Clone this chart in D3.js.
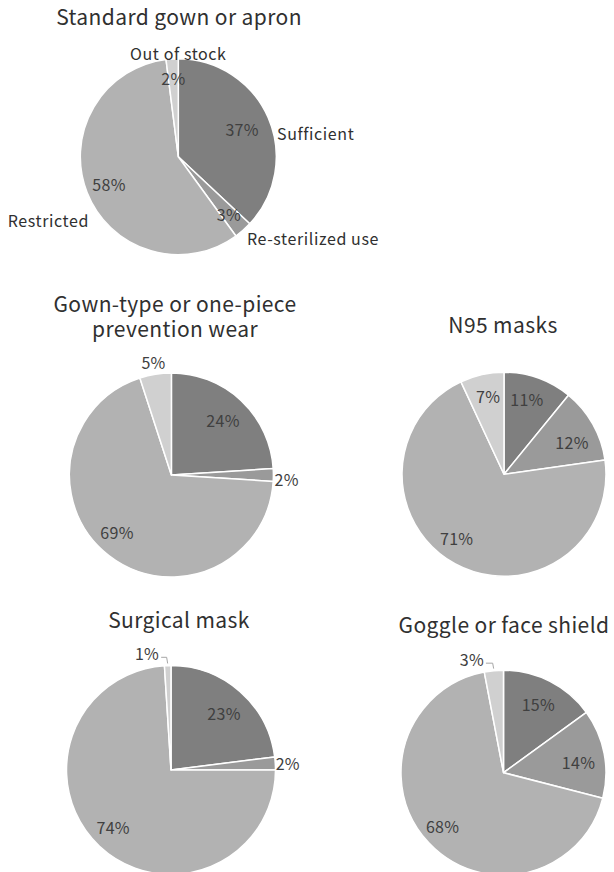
<!DOCTYPE html>
<html><head><meta charset="utf-8">
<script src="https://cdn.jsdelivr.net/npm/d3@7"></script>
<style>body{margin:0;background:#fff} text{font-family:"Noto Sans CJK JP","Noto Sans",sans-serif;font-weight:400}</style>
</head><body><svg id="c" width="614" height="872"></svg>
<script>
// ---- data ----
const categories = ["Sufficient", "Re-sterilized use", "Restricted", "Out of stock"];
const chartTitles = [
  ["Standard gown or apron"],
  ["Gown-type or one-piece", "prevention wear"],
  ["N95 masks"],
  ["Surgical mask"],
  ["Goggle or face shield"]
];
const standardGown = [37, 3, 58, 2];
const gownType = [24, 2, 69, 5];
const n95Masks = [11, 12, 71, 7];
const surgicalMask = [23, 2, 74, 1];
const goggleShield = [15, 14, 68, 3];
const seriesList = [standardGown, gownType, n95Masks, surgicalMask, goggleShield];
const colors = ["#7f7f7f", "#9a9a9a", "#b2b2b2", "#d0d0d0"];

// ---- layout (positions / styles) ----
const layout = [
  {cx: 178.3, cy: 156.7, r: 98, tx: 179, ty: 25,
   lab: [{k: .71}, {k: .78}, {k: .76}, {k: .8}],
   names: [{a: 76.5, k: 1.036, anchor: "start"}, {a: 139.8, k: 1.086, anchor: "start"},
           {a: 234.7, k: 1.117, anchor: "end"}, {a: 0, k: 1.058, anchor: "middle"}]},
  {cx: 171.4, cy: 475, r: 102, tx: 175, ty: 312,
   lab: [{k: .74}, {k: 1.13, da: 2}, {k: .77, da: 6}, {k: 1.12}]},
  {cx: 504, cy: 474.3, r: 102, tx: 503, ty: 333,
   lab: [{k: .77, da: -2.6}, {k: .74, da: 3.7}, {k: .78, da: 8}, {k: .78, da: 1}]},
  {cx: 171, cy: 770, r: 104.5, tx: 179, ty: 628,
   lab: [{k: .745, da: 1.5}, {k: 1.12}, {k: .78, da: 2}, {k: 1.14, da: -9.8, leader: true}]},
  {cx: 503.5, cy: 772.7, r: 102.5, tx: 504, ty: 633,
   lab: [{k: .75}, {k: .74, da: 2.5}, {k: .79, da: 2}, {k: 1.15, da: -10.2, leader: true}]}
];

const svg = d3.select("#c");
const pie = d3.pie().sort(null).value(d => d);
const rad = Math.PI / 180;

seriesList.forEach((series, i) => {
  const L = layout[i];
  const g = svg.append("g");
  // title (one text element, lines as tspans)
  const tt = g.append("text").attr("x", L.tx).attr("y", L.ty).attr("text-anchor", "middle")
    .attr("font-size", 21).attr("letter-spacing", 0.4).attr("fill", "#303030");
  chartTitles[i].forEach((line, j) => {
    tt.append("tspan").attr("x", L.tx).attr("dy", j === 0 ? 0 : 25).text(line);
  });
  const arcs = pie(series);
  const arc = d3.arc().innerRadius(0).outerRadius(L.r);
  const pg = g.append("g").attr("transform", `translate(${L.cx},${L.cy})`);
  pg.selectAll("path").data(arcs).join("path")
    .attr("d", arc).attr("fill", (d, j) => colors[j])
    .attr("stroke", "#fff").attr("stroke-width", 1.5).attr("stroke-linejoin", "round");

  arcs.forEach((d, j) => {
    const spec = L.lab[j];
    const mid = (d.startAngle + d.endAngle) / 2;
    const a = mid + (spec.da || 0) * rad;
    const x = spec.k * L.r * Math.sin(a), y = -spec.k * L.r * Math.cos(a);
    const t = pg.append("text").attr("x", x).attr("y", y).attr("text-anchor", "middle")
      .attr("dominant-baseline", "central").attr("font-size", 16).attr("letter-spacing", 0.3)
      .attr("fill", "#404040").text(d.value + "%");
    if (spec.leader) {
      const w = t.node().getComputedTextLength();
      const px = 1.02 * L.r * Math.sin(mid), py = -1.02 * L.r * Math.cos(mid);
      pg.append("path")
        .attr("d", `M${x + w / 2 + 2},${y + 4}L${px - 1},${y + 4}L${px},${py}`)
        .attr("fill", "none").attr("stroke", "#a6a6a6").attr("stroke-width", 1);
    }
  });

  if (L.names) {
    L.names.forEach((n, j) => {
      const a = n.a * rad;
      pg.append("text").attr("x", n.k * L.r * Math.sin(a)).attr("y", -n.k * L.r * Math.cos(a))
        .attr("text-anchor", n.anchor).attr("dominant-baseline", "central")
        .attr("font-size", 16).attr("letter-spacing", 0.6).attr("fill", "#303030").text(categories[j]);
    });
  }
});
</script></body></html>
